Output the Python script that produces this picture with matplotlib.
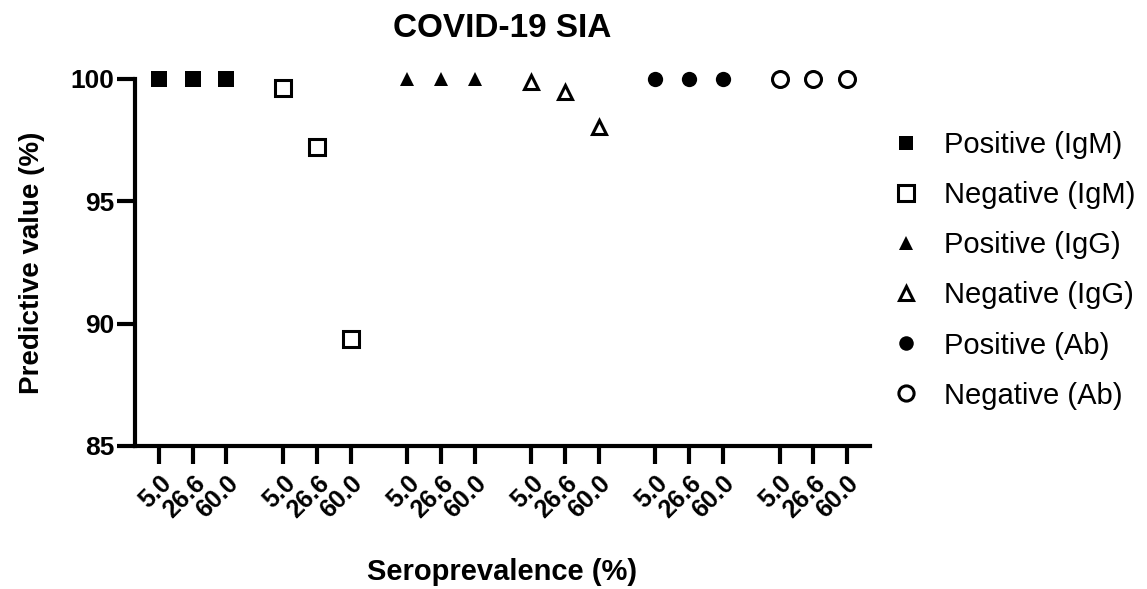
import matplotlib
matplotlib.use('Agg')
import matplotlib.pyplot as plt
import numpy as np

plt.rcParams['font.family'] = ['Liberation Sans', 'DejaVu Sans']

# data
seroprevalence = ['5.0', '26.6', '60.0']
series_names = ['Positive (IgM)', 'Negative (IgM)', 'Positive (IgG)',
                'Negative (IgG)', 'Positive (Ab)', 'Negative (Ab)']
pos_igm = [100.0, 100.0, 100.0]
neg_igm = [99.62, 97.2, 89.39]
pos_igg = [100.0, 100.0, 100.0]
neg_igg = [99.86, 99.48, 98.05]
pos_ab = [100.0, 100.0, 100.0]
neg_ab = [100.0, 100.0, 100.0]

series = [pos_igm, neg_igm, pos_igg, neg_igg, pos_ab, neg_ab]
markers = ['s', 's', '^', '^', 'o', 'o']
filled = [True, False, True, False, True, False]
sizes = [11, 12, 10, 10.5, 11, 11.5]

group_step = 3.7

fig = plt.figure(figsize=(11.47, 5.89), dpi=100)
ax = fig.add_axes([0.1177, 0.2428, 0.6408, 0.6232])

ticks = []
labels = []
for i, vals in enumerate(series):
    x = np.arange(3) + i * group_step
    ticks.extend(x)
    labels.extend(seroprevalence)
    ax.plot(x, vals, linestyle='none', marker=markers[i], markersize=sizes[i],
            markerfacecolor='black' if filled[i] else 'white',
            markeredgecolor='black', markeredgewidth=0 if filled[i] else 2.2,
            clip_on=False, label=series_names[i], zorder=3)

ax.set_xlim(-0.73, 21.2)
ax.set_ylim(85, 100)
ax.set_yticks([85, 90, 95, 100])
ax.set_xticks(ticks)
ax.set_xticklabels(labels, rotation=45, ha='right', va='top',
                   rotation_mode='anchor', fontweight='bold', fontsize=18)
for lab in ax.get_yticklabels():
    lab.set_fontweight('bold')
    lab.set_fontsize(19)

for s in ['top', 'right']:
    ax.spines[s].set_visible(False)
for s in ['left', 'bottom']:
    ax.spines[s].set_linewidth(3)
ax.tick_params(axis='both', direction='out', length=13, width=3)
ax.tick_params(axis='y', pad=2)
ax.tick_params(axis='x', pad=5)

ax.set_title('COVID-19 SIA', fontsize=24, fontweight='bold', pad=30)
ax.set_xlabel('Seroprevalence (%)', fontsize=21, fontweight='bold', labelpad=26)
ax.set_ylabel('Predictive value (%)', fontsize=20, fontweight='bold', labelpad=18)

leg = ax.legend(loc='upper left', bbox_to_anchor=(0.994, 0.93), frameon=False,
                fontsize=21, labelspacing=0.76, handletextpad=0.8,
                markerscale=0.95, handlelength=1.0)

fig.savefig('out.png', dpi=100)
